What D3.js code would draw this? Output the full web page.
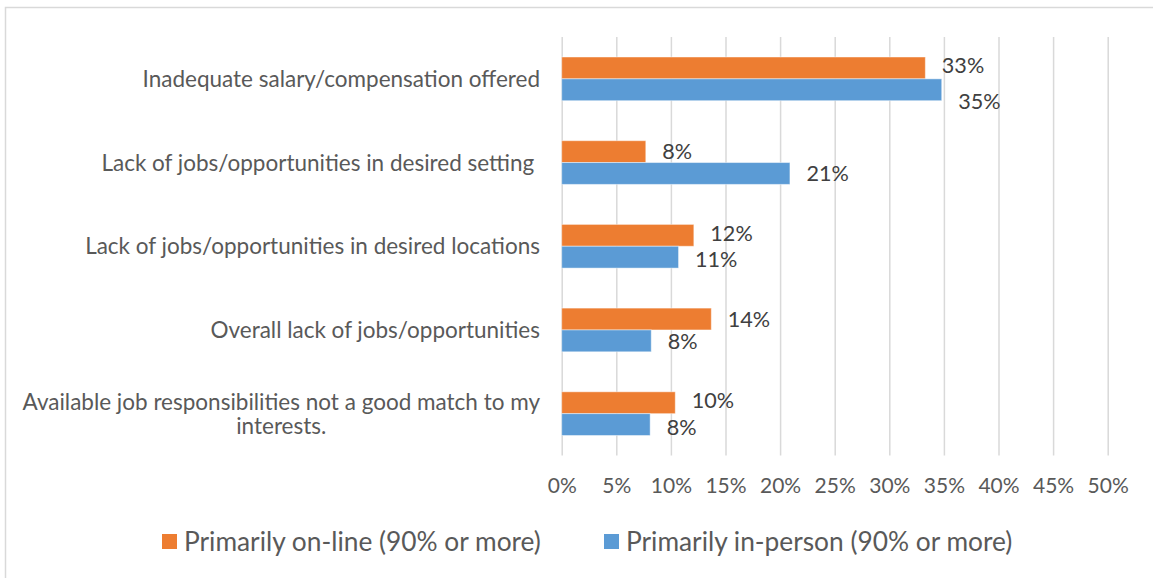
<!DOCTYPE html>
<html>
<head>
<meta charset="utf-8">
<script src="https://cdn.jsdelivr.net/npm/d3@7"></script>
<style>
  html, body { margin: 0; padding: 0; background: #fff; }
  svg { display: block; }
  text { font-family: Lato, "Open Sans", sans-serif; white-space: pre; }
</style>
</head>
<body>
<svg id="chart" width="1153" height="578"></svg>
<script>
// Reasons given, top to bottom
const categories = [
  "Inadequate salary/compensation offered",
  "Lack of jobs/opportunities in desired setting ",
  "Lack of jobs/opportunities in desired locations",
  "Overall lack of jobs/opportunities",
  "Available job responsibilities not a good match to my interests."
];
const seriesNames = ["Primarily on-line (90% or more)", "Primarily in-person (90% or more)"];
const onlineValues   = [0.333, 0.077, 0.121, 0.137, 0.104];
const inPersonValues = [0.348, 0.209, 0.107, 0.082, 0.081];
const tickValues = [0, 0.05, 0.10, 0.15, 0.20, 0.25, 0.30, 0.35, 0.40, 0.45, 0.50];

const colors = ["#ED7D31", "#5B9BD5"];
const seriesValues = [onlineValues, inPersonValues];

const svg = d3.select("#chart");

// chart frame (runs off the right and bottom edges)
svg.append("rect")
  .attr("x", 5.5).attr("y", 7.5)
  .attr("width", 1200).attr("height", 620)
  .attr("fill", "none").attr("stroke", "#d9d9d9").attr("stroke-width", 1.5);

const plot = { left: 561.7, right: 1107.7, top: 37, bottom: 455.5 };

const x = d3.scaleLinear().domain([0, 0.5]).range([plot.left, plot.right]);
const y = d3.scaleBand().domain(categories)
  .range([plot.top, plot.bottom]).paddingInner(0.478).paddingOuter(0.239);
const ySeries = d3.scaleBand().domain(seriesNames).range([0, y.bandwidth()]);

// vertical gridlines + percentage tick labels
const xAxis = d3.axisBottom(x)
  .tickValues(tickValues)
  .tickFormat(d3.format(".0%"))
  .tickSizeInner(-(plot.bottom - plot.top))
  .tickSizeOuter(0)
  .tickPadding(23);

const gx = svg.append("g")
  .attr("transform", `translate(0,${plot.bottom})`)
  .call(xAxis);
gx.select(".domain").remove();
gx.selectAll(".tick line").attr("stroke", "#d9d9d9").attr("stroke-width", 1.5);
gx.selectAll(".tick text")
  .attr("fill", "#595959")
  .style("font-size", "21px")
  .style("font-family", "Lato, 'Open Sans', sans-serif");

// bars
const rows = categories.map((c, i) => ({
  category: c,
  values: seriesNames.map((s, j) => ({ series: s, j, value: seriesValues[j][i] }))
}));

const group = svg.append("g").selectAll("g")
  .data(rows).join("g")
  .attr("transform", d => `translate(0,${y(d.category)})`);

group.selectAll("rect")
  .data(d => d.values).join("rect")
  .attr("x", x(0))
  .attr("y", d => ySeries(d.series))
  .attr("width", d => x(d.value) - x(0))
  .attr("height", ySeries.bandwidth())
  .attr("fill", d => colors[d.j])
  .attr("stroke", "rgba(255,255,255,0.45)")
  .attr("stroke-width", 1);

// value labels to the right of each bar
const labelGap = 16.5;
const labelFont = 21.6;
const fmt = d3.format(".0%");
group.each(function (row, i) {
  // first group: in-person label sits lower, clear of the on-line label
  // when both labels start at nearly the same x, spread them a little apart
  const [a, b] = row.values;
  const close = Math.abs(x(a.value) - x(b.value)) < 30;
  const nudge = j => (i === 0 && j === 1) ? 11 : (close ? (j === 0 ? -2.5 : 2.5) : 0);
  d3.select(this).selectAll("text.value")
    .data(row.values).join("text")
    .attr("class", "value")
    .attr("x", d => x(d.value) + labelGap)
    .attr("y", d => ySeries(d.series) + ySeries.bandwidth() / 2 + nudge(d.j))
    .attr("dy", "0.36em")
    .attr("fill", "#404040")
    .style("font-size", labelFont + "px")
    .text(d => fmt(d.value));
});

// category labels, wrapped and right-aligned against the plot
const labelRight = 540;
const labelMaxWidth = 528;
const lineHeight = 24.5;
const catG = svg.append("g").attr("fill", "#595959").style("font-size", "22.5px");

categories.forEach(cat => {
  const t = catG.append("text").attr("text-anchor", "middle");
  const probe = t.append("tspan");
  const measure = s => { probe.text(s); return probe.node().getComputedTextLength(); };
  const words = cat.split(" ");
  const lines = [];
  let line = [];
  words.forEach(w => {
    const trial = line.concat([w]).join(" ");
    if (measure(trial) > labelMaxWidth && line.length) {
      lines.push(line.join(" "));
      line = [w];
    } else {
      line.push(w);
    }
  });
  lines.push(line.join(" "));

  // widest line sets the right alignment, other lines centre under it
  const blockW = d3.max(lines, measure);
  probe.remove();
  const cx = labelRight - blockW / 2;
  const cy = y(cat) + y.bandwidth() / 2;
  const firstY = cy - (lines.length - 1) * lineHeight / 2;
  lines.forEach((l, k) => {
    t.append("tspan")
      .attr("x", cx)
      .attr("y", firstY + k * lineHeight)
      .attr("dy", "0.36em")
      .text(l);
  });
});

// legend
const legendItems = [
  { name: seriesNames[0], color: colors[0], x: 162 },
  { name: seriesNames[1], color: colors[1], x: 604 }
];
const lg = svg.append("g").selectAll("g").data(legendItems).join("g")
  .attr("transform", d => `translate(${d.x},541.5)`);
lg.append("rect")
  .attr("x", 0).attr("y", -7.5).attr("width", 15).attr("height", 15)
  .attr("fill", d => d.color);
lg.append("text")
  .attr("x", 22).attr("dy", "0.36em")
  .attr("fill", "#595959")
  .style("font-size", "26.3px")
  .text(d => d.name);
</script>
</body>
</html>
